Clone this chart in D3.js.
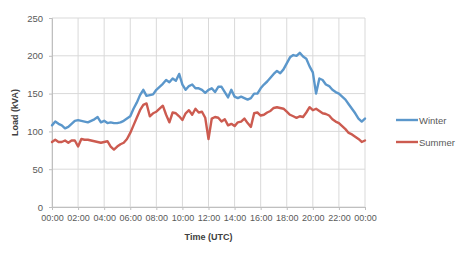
<!DOCTYPE html>
<html>
<head>
<meta charset="utf-8">
<script src="https://cdn.jsdelivr.net/npm/d3@7"></script>
<style>
  html, body { margin: 0; padding: 0; background: #fff; }
  svg { display: block; }
  text { font-family: "Liberation Sans", Arial, sans-serif; }
</style>
</head>
<body>
<svg id="chart" width="468" height="261"></svg>
<script>
// 15-minute samples from 00:00 to 24:00 (97 points)
const timeLabels = ["00:00","02:00","04:00","06:00","08:00","10:00","12:00","14:00","16:00","18:00","20:00","22:00","00:00"];
const yTicks = [0, 50, 100, 150, 200, 250];
const seriesNames = ["Winter", "Summer"];
const winter = [108,113,110,108,104,106,110,114,115,114,113,112,114,116,119,112,114,111,112,111,
  111,112,114,117,120,130,138,148,155,147,148,149,155,159,163,168,165,170,167,176,
  162,155,160,162,157,157,155,151,155,157,152,159,159,152,145,155,146,144,146,144,
  142,144,150,150,157,162,166,171,176,180,177,182,190,198,201,200,204,199,196,186,
  178,150,170,168,162,160,155,152,150,146,142,136,130,124,117,113,117];
const summer = [86,89,86,86,88,85,88,88,80,90,89,89,88,87,86,85,86,87,80,76,
  80,83,85,90,98,108,118,128,135,137,120,124,126,130,134,122,112,125,124,120,
  115,124,128,122,130,125,126,118,90,117,119,118,113,116,108,110,107,112,113,117,
  111,106,124,125,121,122,125,127,131,132,131,130,126,122,120,118,120,119,125,132,
  128,130,127,124,123,121,116,113,111,107,103,98,96,93,90,86,88];
const colors = ["#5b97cb", "#cc5b50"];

const svg = d3.select("#chart");
const m = {left: 52, right: 103, top: 18, bottom: 54};
const W = 468, H = 261;
const x = d3.scaleLinear().domain([0, 96]).range([m.left, W - m.right]);
const y = d3.scaleLinear().domain([0, 250]).range([H - m.bottom, m.top]);

// gridlines
const gridColor = "#d9d9d9";
svg.append("g").selectAll("line").data(yTicks).join("line")
  .attr("x1", m.left).attr("x2", W - m.right)
  .attr("y1", d => y(d)).attr("y2", d => y(d))
  .attr("stroke", gridColor).attr("stroke-width", 1);
svg.append("g").selectAll("line").data(timeLabels).join("line")
  .attr("x1", (d, i) => x(i * 8)).attr("x2", (d, i) => x(i * 8))
  .attr("y1", y(0)).attr("y2", y(250))
  .attr("stroke", gridColor).attr("stroke-width", 1);

// axes
const xAxis = d3.axisBottom(x).tickValues(d3.range(0, 97, 8))
  .tickFormat((d) => timeLabels[d / 8]).tickSize(3).tickPadding(5);
const gx = svg.append("g").attr("transform", `translate(0,${y(0)})`).call(xAxis);
gx.select(".domain").attr("stroke", "#bfbfbf");
gx.selectAll(".tick line").attr("stroke", "#bfbfbf");
gx.selectAll("text").attr("font-size", 9).attr("fill", "#595959")
  .attr("font-family", "Liberation Sans, Arial, sans-serif");

const yAxis = d3.axisLeft(y).tickValues(yTicks).tickSize(3).tickPadding(6);
const gy = svg.append("g").attr("transform", `translate(${m.left},0)`).call(yAxis);
gy.select(".domain").attr("stroke", "#bfbfbf");
gy.selectAll(".tick line").attr("stroke", "#bfbfbf");
gy.selectAll("text").attr("font-size", 9.5).attr("fill", "#595959")
  .attr("font-family", "Liberation Sans, Arial, sans-serif");

// lines
const line = d3.line().x((d, i) => x(i)).y(d => y(d));
[winter, summer].forEach((s, k) => {
  svg.append("path").datum(s)
    .attr("d", line)
    .attr("fill", "none")
    .attr("stroke", colors[k])
    .attr("stroke-width", 2.4)
    .attr("stroke-linejoin", "round")
    .attr("stroke-linecap", "round");
});

// axis titles
svg.append("text").attr("x", (m.left + W - m.right) / 2).attr("y", 240)
  .attr("text-anchor", "middle").attr("font-size", 9).attr("font-weight", "bold")
  .attr("fill", "#404040").text("Time (UTC)");
svg.append("text").attr("transform", `translate(18,${(y(0) + y(250)) / 2}) rotate(-90)`)
  .attr("text-anchor", "middle").attr("font-size", 9).attr("font-weight", "bold")
  .attr("fill", "#404040").text("Load (kVA)");

// legend
const lg = svg.append("g");
seriesNames.forEach((n, k) => {
  const ly = 120 + k * 22;
  lg.append("line").attr("x1", 396).attr("x2", 418).attr("y1", ly).attr("y2", ly)
    .attr("stroke", colors[k]).attr("stroke-width", 2.4);
  lg.append("text").attr("x", 419).attr("y", ly + 3.5).attr("font-size", 9.5)
    .attr("fill", "#595959").text(n);
});
</script>
</body>
</html>
